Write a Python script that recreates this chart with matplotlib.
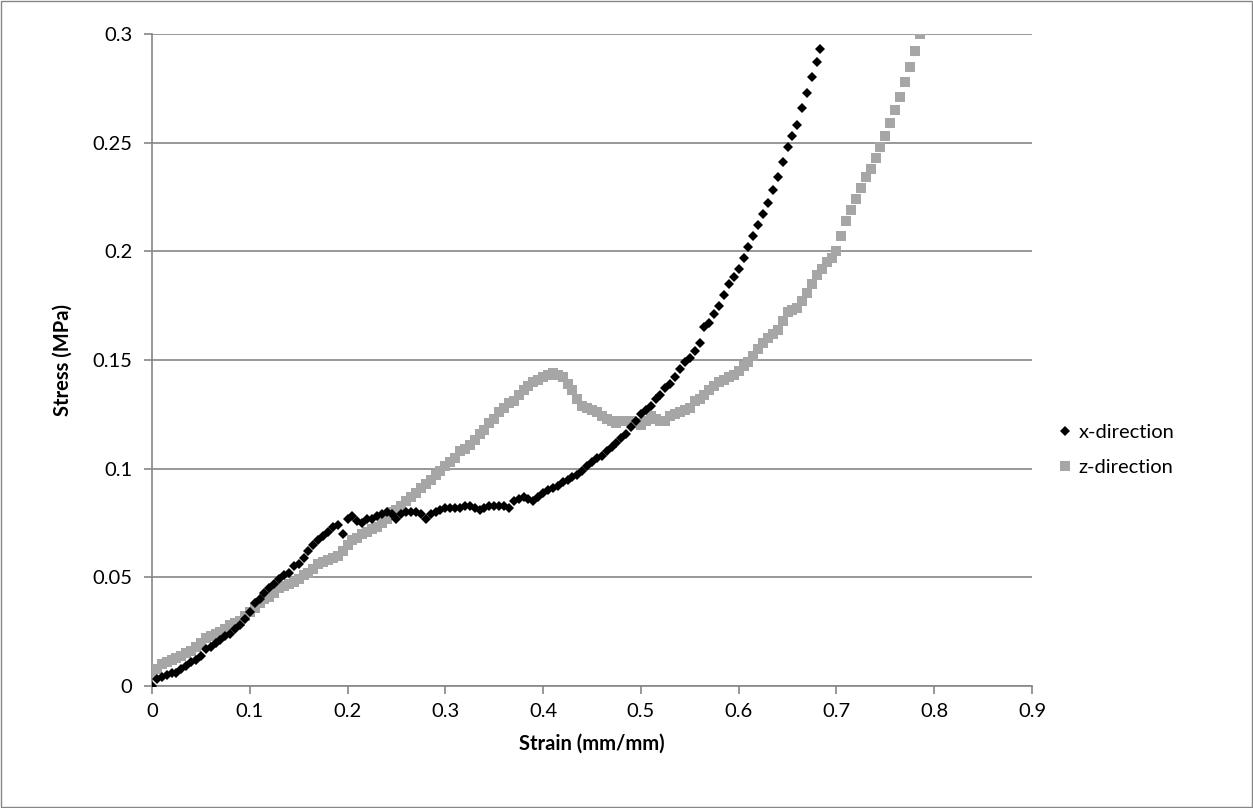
#======================================================================
# Stress-strain curves of the foam sample in two loading directions
#======================================================================
import matplotlib
matplotlib.use("Agg")
import matplotlib.pyplot as plt
from matplotlib.patches import Rectangle

#--------------------------------------------------------------------------
#                    Measured data
#--------------------------------------------------------------------------
x_strain = [0.000, 0.005, 0.010, 0.015, 0.020, 0.025, 0.030, 0.035, 0.040, 0.045,
            0.050, 0.055, 0.060, 0.065, 0.070, 0.075, 0.080, 0.085, 0.090, 0.095,
            0.100, 0.105, 0.110, 0.115, 0.120, 0.125, 0.130, 0.135, 0.140, 0.145,
            0.150, 0.155, 0.160, 0.165, 0.170, 0.175, 0.180, 0.185, 0.190, 0.195,
            0.200, 0.205, 0.210, 0.215, 0.220, 0.225, 0.230, 0.235, 0.240, 0.245,
            0.250, 0.255, 0.260, 0.265, 0.270, 0.275, 0.280, 0.285, 0.290, 0.295,
            0.300, 0.305, 0.310, 0.315, 0.320, 0.325, 0.330, 0.335, 0.340, 0.345,
            0.350, 0.355, 0.360, 0.365, 0.370, 0.375, 0.380, 0.385, 0.390, 0.395,
            0.400, 0.405, 0.410, 0.415, 0.420, 0.425, 0.430, 0.435, 0.440, 0.445,
            0.450, 0.455, 0.460, 0.465, 0.470, 0.475, 0.480, 0.485, 0.490, 0.495,
            0.500, 0.505, 0.510, 0.515, 0.520, 0.525, 0.530, 0.535, 0.540, 0.545,
            0.550, 0.555, 0.560, 0.565, 0.570, 0.575, 0.580, 0.585, 0.590, 0.595,
            0.600, 0.605, 0.610, 0.615, 0.620, 0.625, 0.630, 0.635, 0.640, 0.645,
            0.650, 0.655, 0.660, 0.665, 0.670, 0.675, 0.680, 0.683]
x_stress = [0.000, 0.003, 0.004, 0.005, 0.006, 0.006, 0.008, 0.009, 0.011, 0.012,
            0.014, 0.017, 0.018, 0.020, 0.021, 0.023, 0.024, 0.026, 0.028, 0.031,
            0.034, 0.038, 0.040, 0.043, 0.045, 0.047, 0.049, 0.051, 0.052, 0.055,
            0.056, 0.059, 0.062, 0.065, 0.067, 0.069, 0.071, 0.073, 0.074, 0.070,
            0.077, 0.078, 0.076, 0.075, 0.077, 0.077, 0.078, 0.079, 0.080, 0.079,
            0.077, 0.079, 0.080, 0.080, 0.080, 0.079, 0.077, 0.079, 0.080, 0.081,
            0.082, 0.082, 0.082, 0.082, 0.083, 0.083, 0.082, 0.081, 0.082, 0.083,
            0.083, 0.083, 0.083, 0.082, 0.085, 0.086, 0.087, 0.086, 0.085, 0.087,
            0.089, 0.090, 0.091, 0.092, 0.094, 0.095, 0.096, 0.097, 0.099, 0.101,
            0.103, 0.105, 0.106, 0.108, 0.110, 0.112, 0.114, 0.116, 0.119, 0.122,
            0.125, 0.127, 0.129, 0.132, 0.134, 0.137, 0.139, 0.142, 0.146, 0.149,
            0.151, 0.154, 0.158, 0.165, 0.167, 0.171, 0.175, 0.180, 0.185, 0.188,
            0.192, 0.197, 0.202, 0.207, 0.212, 0.217, 0.222, 0.228, 0.234, 0.241,
            0.248, 0.253, 0.258, 0.266, 0.273, 0.280, 0.287, 0.293]

z_strain = [0.000, 0.005, 0.010, 0.015, 0.020, 0.025, 0.030, 0.035, 0.040, 0.045,
            0.050, 0.055, 0.060, 0.065, 0.070, 0.075, 0.080, 0.085, 0.090, 0.095,
            0.100, 0.105, 0.110, 0.115, 0.120, 0.125, 0.130, 0.135, 0.140, 0.145,
            0.150, 0.155, 0.160, 0.165, 0.170, 0.175, 0.180, 0.185, 0.190, 0.195,
            0.200, 0.205, 0.210, 0.215, 0.220, 0.225, 0.230, 0.235, 0.240, 0.245,
            0.250, 0.255, 0.260, 0.265, 0.270, 0.275, 0.280, 0.285, 0.290, 0.295,
            0.300, 0.305, 0.310, 0.315, 0.320, 0.325, 0.330, 0.335, 0.340, 0.345,
            0.350, 0.355, 0.360, 0.365, 0.370, 0.375, 0.380, 0.385, 0.390, 0.395,
            0.400, 0.405, 0.410, 0.415, 0.420, 0.425, 0.430, 0.435, 0.440, 0.445,
            0.450, 0.455, 0.460, 0.465, 0.470, 0.475, 0.480, 0.485, 0.490, 0.495,
            0.500, 0.505, 0.510, 0.515, 0.520, 0.525, 0.530, 0.535, 0.540, 0.545,
            0.550, 0.555, 0.560, 0.565, 0.570, 0.575, 0.580, 0.585, 0.590, 0.595,
            0.600, 0.605, 0.610, 0.615, 0.620, 0.625, 0.630, 0.635, 0.640, 0.645,
            0.650, 0.655, 0.660, 0.665, 0.670, 0.675, 0.680, 0.685, 0.690, 0.695,
            0.700, 0.705, 0.710, 0.715, 0.720, 0.725, 0.730, 0.735, 0.740, 0.745,
            0.750, 0.755, 0.760, 0.765, 0.770, 0.775, 0.780, 0.785]
z_stress = [0.006, 0.008, 0.010, 0.011, 0.012, 0.013, 0.014, 0.015, 0.016, 0.018,
            0.020, 0.022, 0.023, 0.024, 0.025, 0.026, 0.028, 0.029, 0.030, 0.032,
            0.034, 0.036, 0.038, 0.040, 0.041, 0.043, 0.045, 0.046, 0.047, 0.048,
            0.049, 0.051, 0.052, 0.054, 0.056, 0.057, 0.058, 0.059, 0.060, 0.062,
            0.065, 0.067, 0.068, 0.070, 0.071, 0.072, 0.073, 0.075, 0.077, 0.080,
            0.081, 0.083, 0.085, 0.087, 0.089, 0.091, 0.093, 0.095, 0.097, 0.099,
            0.101, 0.103, 0.105, 0.108, 0.109, 0.111, 0.113, 0.116, 0.118, 0.121,
            0.123, 0.126, 0.128, 0.130, 0.131, 0.134, 0.136, 0.138, 0.140, 0.141,
            0.142, 0.143, 0.144, 0.143, 0.142, 0.139, 0.136, 0.132, 0.129, 0.128,
            0.127, 0.126, 0.124, 0.123, 0.122, 0.121, 0.122, 0.122, 0.122, 0.121,
            0.120, 0.122, 0.124, 0.123, 0.122, 0.122, 0.124, 0.125, 0.126, 0.127,
            0.128, 0.131, 0.132, 0.134, 0.136, 0.138, 0.140, 0.141, 0.142, 0.143,
            0.145, 0.147, 0.149, 0.152, 0.155, 0.158, 0.160, 0.162, 0.164, 0.168,
            0.172, 0.173, 0.174, 0.177, 0.181, 0.185, 0.189, 0.192, 0.195, 0.197,
            0.200, 0.207, 0.214, 0.219, 0.224, 0.229, 0.234, 0.238, 0.243, 0.248,
            0.253, 0.259, 0.265, 0.271, 0.278, 0.285, 0.292, 0.300]

x_ticks = [0, 0.1, 0.2, 0.3, 0.4, 0.5, 0.6, 0.7, 0.8, 0.9]
y_ticks = [0, 0.05, 0.1, 0.15, 0.2, 0.25, 0.3]

#--------------------------------------------------------------------------
#               Plotting Logic
#--------------------------------------------------------------------------
plt.rcParams['font.family'] = ['Lato', 'DejaVu Sans']
axis_gray = '#868686'
fsize = 14.5

fig = plt.figure(figsize=(12.53, 8.08), dpi=100)
ax = fig.add_axes([0.1213, 0.151, 0.7023, 0.807])

ax.plot(z_strain, z_stress, linestyle='none', marker='s', markersize=7.0,
        color='#a6a6a6', markeredgewidth=0, label='z-direction', zorder=3)
ax.plot(x_strain, x_stress, linestyle='none', marker='D', markersize=5.3,
        color='black', markeredgewidth=0, label='x-direction', zorder=4)

ax.set_xlim(0, 0.9)
ax.set_ylim(0, 0.3)
ax.set_xticks(x_ticks)
ax.set_yticks(y_ticks)
ax.set_xticklabels(['0' if t == 0 else f'{t:g}' for t in x_ticks])
ax.set_yticklabels(['0' if t == 0 else f'{t:g}' for t in y_ticks])

ax.yaxis.grid(True, color=axis_gray, linewidth=1.2)
ax.set_axisbelow(True)
for side in ['top', 'right']:
    ax.spines[side].set_visible(False)
for side in ['left', 'bottom']:
    ax.spines[side].set_color(axis_gray)
    ax.spines[side].set_linewidth(1.2)
ax.tick_params(axis='both', direction='out', length=6, width=1.2,
               color=axis_gray, labelsize=fsize, labelcolor='black')
ax.tick_params(axis='x', pad=6)
ax.tick_params(axis='y', pad=8)

ax.set_xlabel('Strain (mm/mm)', fontsize=fsize, fontweight='bold', labelpad=10)
ax.set_ylabel('Stress (MPa)', fontsize=fsize, fontweight='bold', labelpad=14)

handles, labels = ax.get_legend_handles_labels()
ax.legend(handles[::-1], labels[::-1], loc='center left',
          bbox_to_anchor=(1.005, 0.362), frameon=False, fontsize=fsize,
          handletextpad=0.2, handlelength=1.0, labelspacing=0.85)

# thin frame round the whole chart
fig.patches.append(Rectangle((0.0008, 0.0012), 0.9984, 0.9976,
                             transform=fig.transFigure, fill=False,
                             edgecolor=axis_gray, linewidth=1.0))

fig.savefig('out.png', dpi=100)
print("Completed Successfully ... ")
